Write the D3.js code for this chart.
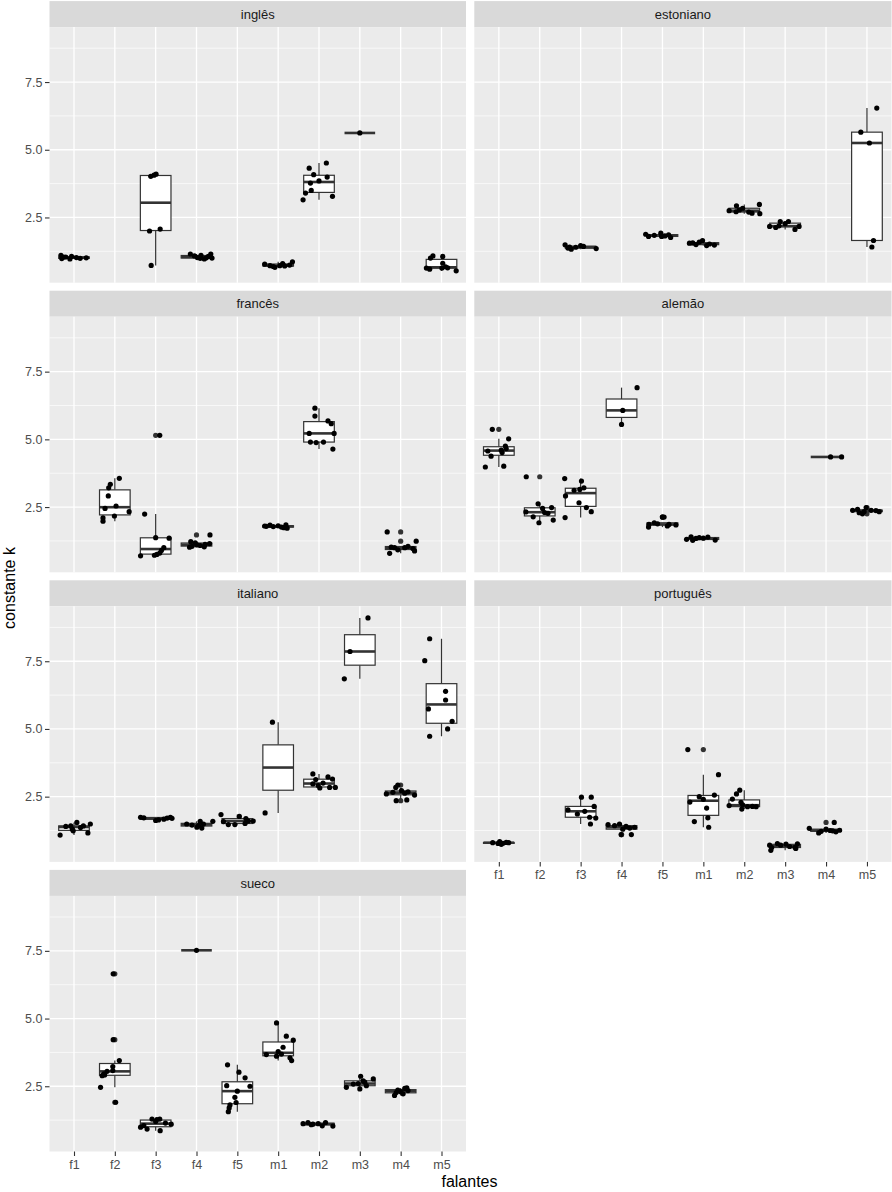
<!doctype html>
<meta charset="utf-8">
<style>
body { margin: 0; background: #fff; }
text { font-family: "Liberation Sans", Arial, sans-serif; }
</style>
<html lang="pt">
<head></head>
<body>
<script src="https://cdn.jsdelivr.net/npm/d3@7"></script>
<script>
// speakers on the x axis, facets in the order they appear
var speakers = ["f1", "f2", "f3", "f4", "f5", "m1", "m2", "m3", "m4", "m5"];
var languages = ["inglês", "estoniano", "francês", "alemão", "italiano", "português", "sueco"];
var yTicks = [2.5, 5.0, 7.5];
var yMinor = [1.25, 3.75, 6.25, 8.75];

// v = constante k per repetition, j = horizontal jitter (in category units)
var ingles = [
  {s: "f1", v: [1.10, 0.98, 1.04, 0.97, 1.06, 1.02, 1.01, 0.99, 1.04], j: [-0.32, -0.30, -0.20, -0.10, -0.06, 0.06, 0.30, 0.15, -0.25]},
  {s: "f3", v: [0.73, 2.0, 2.07, 4.02, 4.06, 4.1], j: [-0.11, -0.15, 0.11, -0.12, -0.04, 0.01]},
  {s: "f4", v: [1.15, 1.08, 1.02, 0.99, 0.97, 1.06, 1.15, 1.0, 1.1, 1.01], j: [-0.15, -0.05, 0.02, 0.09, 0.19, 0.29, 0.35, 0.38, 0.11, 0.24]},
  {s: "m1", v: [0.78, 0.72, 0.66, 0.72, 0.80, 0.71, 0.74, 0.86, 0.69], j: [-0.33, -0.20, -0.08, 0.04, 0.11, 0.16, 0.28, 0.35, -0.12]},
  {s: "m2", v: [3.15, 3.40, 4.32, 4.08, 3.77, 3.85, 4.51, 3.99, 3.28, 3.5], j: [-0.39, -0.33, -0.24, -0.13, -0.21, 0, 0.18, 0.2, 0.33, -0.19]},
  {s: "m3", v: [5.62], j: [0]},
  {s: "m5", v: [0.63, 0.59, 1.0, 1.08, 1.06, 0.81, 0.63, 0.64, 0.53, 0.68], j: [-0.37, -0.29, -0.27, -0.21, 0.03, 0.03, 0.01, 0.15, 0.36, 0.1]}
];

var estoniano = [
  {s: "f3", v: [1.49, 1.37, 1.33, 1.40, 1.46, 1.43, 1.35, 1.41], j: [-0.38, -0.31, -0.23, -0.12, 0, 0.07, 0.38, -0.27]},
  {s: "f5", v: [1.88, 1.80, 1.92, 1.82, 1.86, 1.76, 1.80, 1.84], j: [-0.41, -0.34, -0.04, 0.06, 0.15, 0.2, -0.02, -0.2]},
  {s: "m1", v: [1.55, 1.56, 1.59, 1.65, 1.46, 1.48, 1.52, 1.50], j: [-0.34, -0.26, -0.1, -0.02, 0.08, 0.27, 0.15, -0.18]},
  {s: "m2", v: [2.93, 2.71, 2.84, 2.70, 2.66, 2.98, 2.64, 2.78, 2.75], j: [-0.19, -0.2, -0.04, 0.11, 0.19, 0.37, 0.38, -0.12, -0.37]},
  {s: "m3", v: [2.17, 2.13, 2.35, 2.27, 2.35, 2.06, 2.17, 2.19], j: [-0.38, -0.23, -0.12, 0, 0.08, 0.24, 0.34, -0.15]},
  {s: "m5", v: [1.41, 1.65, 5.25, 5.65, 6.54], j: [0.12, 0.16, 0.06, -0.15, 0.24]}
];

var frances = [
  {s: "f2", v: [1.98, 2.1, 2.45, 2.91, 3.21, 3.34, 2.17, 2.54, 3.56, 2.33], j: [-0.29, -0.29, -0.24, -0.16, -0.15, -0.11, -0.01, 0.03, 0.11, 0.35]},
  {s: "f3", v: [0.70, 0.72, 0.75, 0.80, 0.90, 1.0, 1.35, 1.37, 2.24, 5.15], j: [-0.37, -0.03, 0.03, 0.1, 0.14, 0.2, 0.33, 0.0, -0.27, 0.1]},
  {s: "f4", v: [1.02, 1.22, 1.05, 1.08, 1.03, 1.15, 1.47, 1.12, 1.18, 1.1], j: [-0.17, -0.14, -0.11, 0.09, 0.19, 0.32, 0.33, 0.21, -0.03, 0.01]},
  {s: "m1", v: [1.80, 1.83, 1.78, 1.76, 1.84, 1.72, 1.74, 1.79, 1.81], j: [-0.33, -0.2, -0.12, 0.08, 0.19, 0.22, 0.14, -0.29, 0]},
  {s: "m2", v: [6.15, 5.86, 5.22, 4.9, 4.88, 4.9, 5.68, 5.58, 5.22, 4.64], j: [-0.1, -0.1, -0.24, -0.21, -0.07, 0.11, 0.22, 0.3, 0.37, 0.34]},
  {s: "m4", v: [1.58, 1.24, 0.79, 1.02, 1.0, 0.88, 0.97, 1.0, 1.05, 0.92], j: [-0.33, 0.38, -0.27, -0.23, -0.15, 0.34, 0.3, 0.1, 0.18, -0.07]}
];

var alemao = [
  {s: "f1", v: [3.98, 5.37, 4.57, 4.38, 4.51, 4.01, 4.75, 4.66, 5.02, 4.6], j: [-0.33, -0.16, -0.27, -0.19, 0.08, 0.12, 0.16, 0.18, 0.24, 0.06]},
  {s: "f2", v: [3.62, 2.32, 2.14, 2.62, 1.92, 2.45, 2.27, 2.48, 2.02, 2.3], j: [-0.33, -0.34, -0.16, -0.04, -0.02, 0.07, 0.2, 0.29, 0.33, 0.12]},
  {s: "f3", v: [3.55, 3.46, 2.91, 3.12, 3.15, 3.21, 2.66, 2.48, 2.33, 2.11], j: [-0.39, 0.02, -0.37, -0.16, -0.02, 0.08, -0.04, 0.14, 0.26, -0.38]},
  {s: "f4", v: [6.91, 6.07, 5.55], j: [0.38, 0.03, 0]},
  {s: "f5", v: [1.76, 1.86, 1.92, 2.13, 2.13, 1.8, 1.86, 1.84, 1.88], j: [-0.34, -0.33, -0.2, 0, 0.04, 0.12, 0.16, 0.33, -0.12]},
  {s: "m1", v: [1.31, 1.40, 1.27, 1.37, 1.35, 1.39, 1.28, 1.34], j: [-0.41, -0.3, -0.26, -0.1, 0, 0.11, 0.29, -0.18]},
  {s: "m4", v: [4.35, 4.35], j: [0.11, 0.38]},
  {s: "m5", v: [2.38, 2.42, 2.29, 2.25, 2.48, 2.38, 2.37, 2.33, 2.33], j: [-0.35, -0.23, -0.19, -0.11, -0.02, 0.1, 0.22, 0.3, -0.07]}
];

var italiano = [
  {s: "f1", v: [1.08, 1.40, 1.42, 1.24, 1.55, 1.36, 1.42, 1.16, 1.49, 1.30], j: [-0.34, -0.2, -0.08, -0.02, 0.07, 0.16, 0.23, 0.34, 0.4, -0.04]},
  {s: "f3", v: [1.74, 1.72, 1.62, 1.64, 1.67, 1.71, 1.70, 1.74], j: [-0.37, -0.29, 0, 0.07, 0.2, 0.28, 0.4, 0.36]},
  {s: "f4", v: [1.49, 1.45, 1.37, 1.59, 1.49, 1.43, 1.59, 1.34], j: [-0.24, -0.11, 0.01, 0.09, 0.17, 0.05, 0.4, 0.13]},
  {s: "f5", v: [1.84, 1.58, 1.47, 1.47, 1.77, 1.51, 1.6, 1.6, 1.69], j: [-0.4, -0.34, -0.22, -0.06, 0.05, 0.19, 0.27, 0.39, 0.21]},
  {s: "m1", v: [1.9, 5.25], j: [-0.32, -0.14]},
  {s: "m2", v: [3.34, 3.13, 2.91, 2.82, 3.23, 3.15, 2.84, 2.84, 2.97, 3.0], j: [-0.15, -0.08, -0.02, 0.02, 0.22, 0.33, 0.4, 0.26, -0.15, 0.1]},
  {s: "m3", v: [9.1, 7.86, 6.85], j: [0.2, -0.24, -0.38]},
  {s: "m4", v: [2.35, 2.38, 2.56, 2.6, 2.63, 2.66, 2.68, 2.72, 2.84, 2.93], j: [-0.11, 0.15, 0.34, -0.35, 0.1, -0.19, 0.18, 0.02, -0.12, -0.07]},
  {s: "m5", v: [8.33, 7.52, 6.39, 6.07, 5.74, 5.28, 5.0, 4.73], j: [-0.29, -0.41, 0.1, 0.1, -0.32, 0.26, 0.15, -0.29]}
];

var portugues = [
  {s: "f1", v: [0.80, 0.77, 0.84, 0.78, 0.81, 0.80, 0.74], j: [-0.15, -0.02, 0.02, 0.1, 0.18, 0.24, 0.06]},
  {s: "f3", v: [2.01, 1.86, 2.48, 1.96, 1.49, 2.48, 2.14, 1.71, 1.74], j: [-0.31, -0.08, 0.02, 0.1, 0.24, 0.26, 0.33, 0.37, 0.22]},
  {s: "f4", v: [1.47, 1.43, 1.49, 1.1, 1.3, 1.4, 1.1, 1.37, 1.34], j: [-0.33, -0.17, -0.05, -0.01, 0.03, 0.11, 0.24, 0.32, 0.2]},
  {s: "m1", v: [4.24, 3.31, 2.3, 2.5, 2.56, 2.08, 1.72, 1.58, 1.37, 2.4], j: [-0.38, 0.37, -0.33, -0.1, 0.27, 0.08, 0.11, -0.22, 0.13, 0.0]},
  {s: "m2", v: [2.17, 2.41, 2.6, 2.74, 2.29, 2.04, 2.13, 2.14, 2.13, 2.2], j: [-0.37, -0.29, -0.19, -0.11, -0.08, -0.06, 0.08, 0.2, 0.29, -0.04]},
  {s: "m3", v: [0.71, 0.52, 0.77, 0.71, 0.75, 0.66, 0.63, 0.76, 0.59, 0.62], j: [-0.38, -0.35, -0.19, -0.11, 0.02, 0.11, 0.24, 0.3, 0.26, -0.33]},
  {s: "m4", v: [1.33, 1.16, 1.25, 1.55, 1.2, 1.26, 1.22, 1.24, 1.3], j: [-0.41, -0.18, 0.1, 0.2, 0.24, 0.33, -0.12, 0.16, 0.0]}
];

var sueco = [
  {s: "f2", v: [6.65, 4.22, 2.46, 1.91, 2.96, 2.89, 3.23, 3.08, 3.45, 3.05, 2.92], j: [-0.04, -0.04, -0.35, 0.02, -0.27, -0.31, -0.05, -0.05, 0.11, -0.19, -0.25]},
  {s: "f3", v: [0.99, 0.92, 1.29, 1.2, 1.29, 0.86, 1.14, 1.1, 1.05, 1.27], j: [-0.37, -0.21, -0.09, 0, 0.1, 0.11, 0.24, 0.38, -0.29, 0.03]},
  {s: "f4", v: [7.52], j: [0]},
  {s: "f5", v: [3.29, 3.02, 2.81, 2.52, 2.5, 2.32, 2.09, 1.81, 1.56, 1.7, 1.9], j: [-0.24, 0.04, 0.19, -0.26, 0.31, 0, -0.06, -0.18, -0.22, -0.2, -0.03]},
  {s: "m1", v: [4.84, 4.35, 4.2, 3.94, 3.78, 3.61, 3.67, 3.55, 3.45, 3.69], j: [-0.04, 0.2, 0.37, 0.12, 0, -0.04, -0.29, 0.29, 0.33, 0.08]},
  {s: "m2", v: [1.12, 1.16, 1.1, 1.12, 1.04, 1.16, 1.03, 1.08], j: [-0.39, -0.27, -0.15, -0.02, 0.08, 0.16, 0.34, -0.19]},
  {s: "m3", v: [2.46, 2.6, 2.87, 2.7, 2.52, 2.77, 2.4, 2.58, 2.65], j: [-0.33, -0.04, 0.02, 0.08, 0.16, 0.33, 0, -0.16, 0.12]},
  {s: "m4", v: [2.16, 2.36, 2.3, 2.42, 2.34, 2.22, 2.27, 2.44], j: [-0.15, -0.07, 0, 0.1, 0.18, 0.06, -0.11, 0.15]}
];

var byLanguage = [ingles, estoniano, frances, alemao, italiano, portugues, sueco];

var width = 892, height = 1192;
var colX = [[49.5, 466], [474.3, 891.5]];
var stripH = 26, panelH = 255.6, rowStep = 289.6, firstRow = 1.1;

var svg = d3.select("body").append("svg")
    .attr("width", width)
    .attr("height", height);

// shared y domain: data range plus 5% on each side
var allValues = byLanguage.flatMap(function(l) { return l.flatMap(function(d) { return d.v; }); });
var ext = d3.extent(allValues);
var pad = (ext[1] - ext[0]) * 0.05;

function boxStats(values) {
  var s = values.slice().sort(d3.ascending);
  var q1 = d3.quantileSorted(s, 0.25), med = d3.quantileSorted(s, 0.5), q3 = d3.quantileSorted(s, 0.75);
  var iqr = q3 - q1;
  var inside = s.filter(function(v) { return v >= q1 - 1.5 * iqr && v <= q3 + 1.5 * iqr; });
  return {
    q1: q1, med: med, q3: q3,
    lo: d3.min(inside), hi: d3.max(inside),
    out: s.filter(function(v) { return v < q1 - 1.5 * iqr || v > q3 + 1.5 * iqr; })
  };
}

languages.forEach(function(lang, i) {
  var col = i % 2, row = Math.floor(i / 2);
  var stripTop = firstRow + row * rowStep;
  var top = stripTop + stripH, bottom = top + panelH;
  var x0 = colX[col][0], x1 = colX[col][1];

  var x = d3.scalePoint().domain(speakers).range([x0, x1]).padding(0.6);
  var y = d3.scaleLinear().domain([ext[0] - pad, ext[1] + pad]).range([bottom, top]);
  var step = x.step();

  var g = svg.append("g");

  // strip
  g.append("rect").attr("x", x0).attr("y", stripTop).attr("width", x1 - x0).attr("height", stripH)
      .attr("fill", "#d9d9d9");
  g.append("text").attr("x", (x0 + x1) / 2).attr("y", stripTop + 17.6)
      .attr("text-anchor", "middle").attr("font-size", "13px").attr("fill", "#1a1a1a")
      .text(lang);

  // panel background + grid
  g.append("rect").attr("x", x0).attr("y", top).attr("width", x1 - x0).attr("height", panelH)
      .attr("fill", "#ebebeb");
  g.selectAll(".minor").data(yMinor).enter().append("line")
      .attr("x1", x0).attr("x2", x1).attr("y1", y).attr("y2", y)
      .attr("stroke", "#fff").attr("stroke-width", 0.65);
  g.selectAll(".major").data(yTicks).enter().append("line")
      .attr("x1", x0).attr("x2", x1).attr("y1", y).attr("y2", y)
      .attr("stroke", "#fff").attr("stroke-width", 1.3);
  g.selectAll(".vgrid").data(speakers).enter().append("line")
      .attr("x1", x).attr("x2", x).attr("y1", top).attr("y2", bottom)
      .attr("stroke", "#fff").attr("stroke-width", 1.3);

  var groups = byLanguage[i];
  var bw = step * 0.75;

  // boxplots
  groups.forEach(function(d) {
    var b = boxStats(d.v), cx = x(d.s);
    var bg = g.append("g");
    bg.append("line").attr("x1", cx).attr("x2", cx).attr("y1", y(b.q3)).attr("y2", y(b.hi))
        .attr("stroke", "#333").attr("stroke-width", 1.2);
    bg.append("line").attr("x1", cx).attr("x2", cx).attr("y1", y(b.q1)).attr("y2", y(b.lo))
        .attr("stroke", "#333").attr("stroke-width", 1.2);
    bg.append("rect").attr("x", cx - bw / 2).attr("y", y(b.q3)).attr("width", bw)
        .attr("height", Math.max(0, y(b.q1) - y(b.q3)))
        .attr("fill", "#fff").attr("stroke", "#333").attr("stroke-width", 1.2);
    bg.append("line").attr("x1", cx - bw / 2).attr("x2", cx + bw / 2).attr("y1", y(b.med)).attr("y2", y(b.med))
        .attr("stroke", "#333").attr("stroke-width", 2.6);
    bg.selectAll("circle").data(b.out).enter().append("circle")
        .attr("cx", cx).attr("cy", y).attr("r", 2.6).attr("fill", "#333");
  });

  // jittered points
  groups.forEach(function(d) {
    g.append("g").selectAll("circle").data(d.v).enter().append("circle")
        .attr("cx", function(v, k) { return x(d.s) + d.j[k] * step; })
        .attr("cy", function(v) { return y(v); })
        .attr("r", 2.6)
        .attr("fill", "#000");
  });

  // axes
  if (col === 0) {
    var ya = g.append("g").attr("transform", "translate(" + x0 + ",0)")
        .call(d3.axisLeft(y).tickValues(yTicks).tickFormat(d3.format(".1f")).tickSize(4.5).tickPadding(2.5));
    styleAxis(ya);
  }
  if (i >= languages.length - 2) {
    var xa = g.append("g").attr("transform", "translate(0," + bottom + ")")
        .call(d3.axisBottom(x).tickSize(4.5).tickPadding(4));
    styleAxis(xa);
  }
});

function styleAxis(a) {
  a.select(".domain").remove();
  a.selectAll(".tick line").attr("stroke", "#333").attr("stroke-width", 1.1);
  a.selectAll(".tick text").attr("fill", "#4d4d4d").attr("font-size", "12.5px")
      .attr("font-family", "Liberation Sans, Arial, sans-serif");
}

// axis titles
svg.append("text")
    .attr("transform", "translate(15,588) rotate(-90)")
    .attr("text-anchor", "middle").attr("font-size", "16px").attr("fill", "#000")
    .text("constante k");
svg.append("text")
    .attr("x", 469.5).attr("y", 1187)
    .attr("text-anchor", "middle").attr("font-size", "16px").attr("fill", "#000")
    .text("falantes");
</script>
</body>
</html>
